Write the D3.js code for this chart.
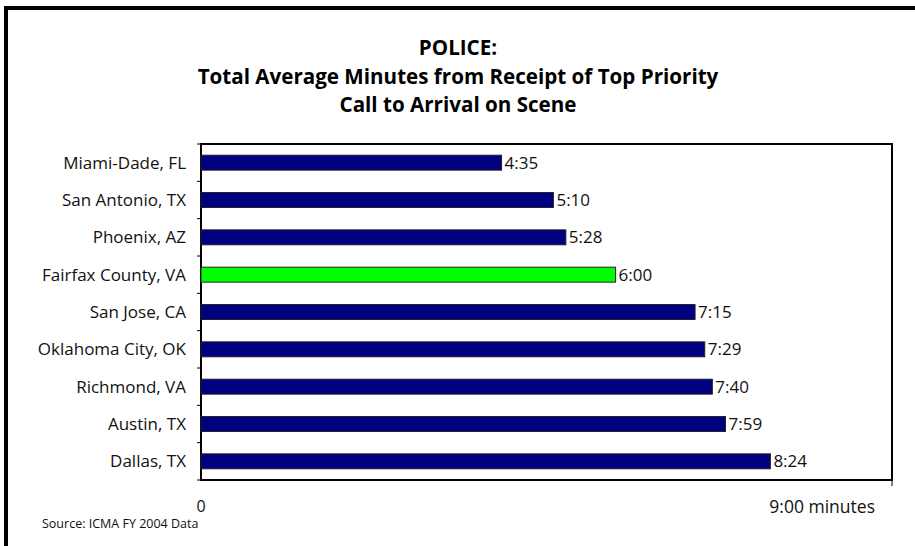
<!DOCTYPE html>
<html><head><meta charset="utf-8">
<script src="https://cdn.jsdelivr.net/npm/d3@7/dist/d3.min.js"></script>
<style>body{margin:0;background:#fff;} svg{display:block;}</style>
</head><body>
<script>
const categories = ["Miami-Dade, FL","San Antonio, TX","Phoenix, AZ","Fairfax County, VA","San Jose, CA","Oklahoma City, OK","Richmond, VA","Austin, TX","Dallas, TX"];
const values = [4.35, 5.10, 5.28, 6.00, 7.15, 7.29, 7.40, 7.59, 8.24];
const valueLabels = ["4:35","5:10","5:28","6:00","7:15","7:29","7:40","7:59","8:24"];
const highlight = ["Fairfax County, VA"];
const titleLines = ["POLICE:","Total Average Minutes from Receipt of Top Priority","Call to Arrival on Scene"];
const axisLabels = ["0","9:00 minutes"];
const sourceText = "Source: ICMA FY 2004 Data";

const W=915,H=546;
const font="'Open Sans', Lato, sans-serif";
const svg=d3.select("body").append("svg").attr("width",W).attr("height",H);
svg.append("rect").attr("x",6).attr("y",8).attr("width",W+20).attr("height",H+20)
  .attr("fill","none").attr("stroke","#000").attr("stroke-width",4);

const L=201,R=892,T=144,B=480;
const x=d3.scaleLinear().domain([0,10]).range([L,R]);
const y=d3.scaleBand().domain(categories).range([T,B]).paddingInner(0.6).paddingOuter(0.3);

// title
svg.append("g").selectAll("text").data(titleLines).join("text")
  .attr("x",458).attr("y",(d,i)=>55+i*28.5).attr("text-anchor","middle")
  .attr("font-family",font).attr("font-weight","bold").attr("font-size",20.6).attr("fill","#000").text(d=>d);

// plot box
svg.append("rect").attr("x",L).attr("y",T).attr("width",R-L).attr("height",B-T)
  .attr("fill","#fff").attr("stroke","#000").attr("stroke-width",2);

// y axis ticks
const tickYs=d3.range(categories.length+1).map(i=>T+i*y.step());
svg.append("g").selectAll("line").data(tickYs).join("line")
  .attr("x1",L-4).attr("x2",L).attr("y1",d=>d).attr("y2",d=>d).attr("stroke","#000").attr("stroke-width",1);
svg.append("line").attr("x1",R).attr("x2",R).attr("y1",B).attr("y2",B+6).attr("stroke","#000");

// bars
svg.append("g").selectAll("rect").data(categories).join("rect")
  .attr("x",x(0)).attr("y",d=>y(d)).attr("width",(d,i)=>x(values[i])-x(0)).attr("height",y.bandwidth())
  .attr("fill",d=>highlight.includes(d)?"#00ff00":"#000080").attr("stroke","#222").attr("stroke-width",1);

// value labels
svg.append("g").selectAll("text").data(categories).join("text")
  .attr("x",(d,i)=>x(values[i])+3).attr("y",d=>y(d)+y.bandwidth()/2+6)
  .attr("font-family",font).attr("font-size",17).attr("fill","#111").text((d,i)=>valueLabels[i]);

// category labels
svg.append("g").selectAll("text").data(categories).join("text")
  .attr("x",L-15).attr("y",d=>y(d)+y.bandwidth()/2+6).attr("text-anchor","end")
  .attr("font-family",font).attr("font-size",17).attr("fill","#111").text(d=>d);

// axis labels
svg.append("text").attr("x",x(0)).attr("y",512).attr("text-anchor","middle")
  .attr("font-family",font).attr("font-size",16).attr("fill","#111").text(axisLabels[0]);
svg.append("text").attr("x",875).attr("y",513).attr("text-anchor","end")
  .attr("font-family",font).attr("font-size",17.5).attr("fill","#111").text(axisLabels[1]);
svg.append("text").attr("x",42).attr("y",528)
  .attr("font-family",font).attr("font-size",12.5).attr("fill","#111").text(sourceText);
</script>
</body></html>
